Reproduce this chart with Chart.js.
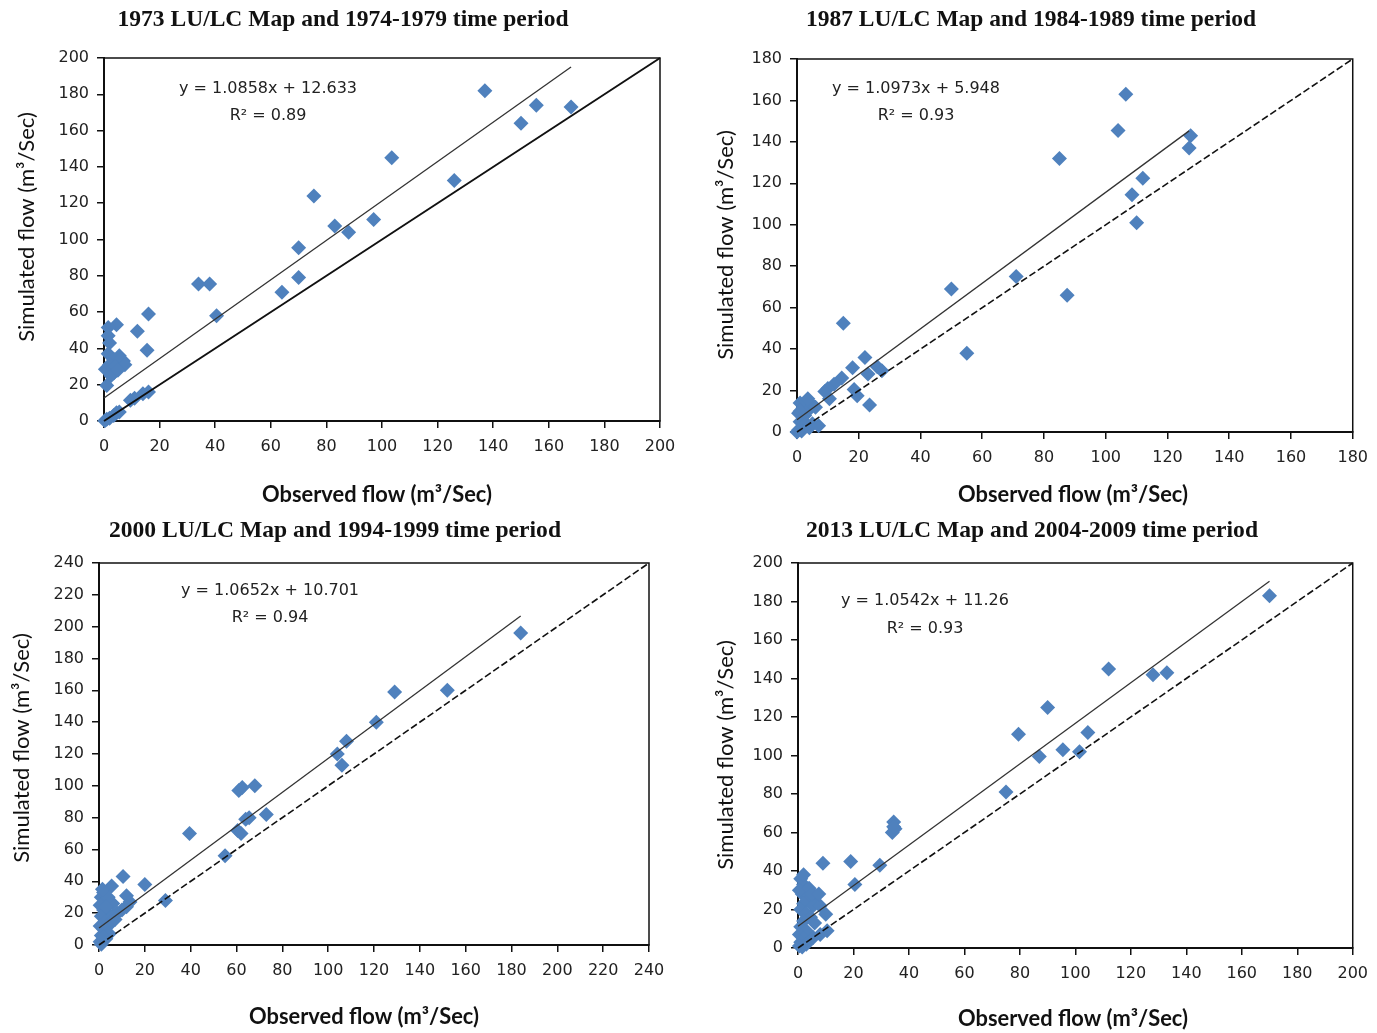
<!DOCTYPE html>
<html>
<head>
<meta charset="utf-8">
<script src="https://cdn.jsdelivr.net/npm/chart.js@4.4.1/dist/chart.umd.min.js"></script>
<style>
  html, body { margin: 0; padding: 0; background: #fff; }
  #wrap { position: relative; width: 1377px; height: 1033px; overflow: hidden; background: #fff; }
  #wrap canvas { position: absolute; }
</style>
</head>
<body>
<div id="wrap">
  <canvas id="c1"></canvas>
  <canvas id="c2"></canvas>
  <canvas id="c3"></canvas>
  <canvas id="c4"></canvas>
</div>
<script>
// ---- Data: observed vs simulated monthly flow (m³/s) for each LU/LC map ----
const panelTitles = [
  '1973 LU/LC Map and 1974-1979 time period',
  '1987 LU/LC Map and 1984-1989 time period',
  '2000 LU/LC Map and 1994-1999 time period',
  '2013 LU/LC Map and 2004-2009 time period'
];
const xAxisTitle = 'Observed flow (m³/Sec)';
const yAxisTitle = 'Simulated flow (m³/Sec)';

const obs1973 = [137,155.5,168,150,103.5,126,75.5,83,88,97,70,70,64,34,38,40.5,16,12,15.5,4.5,1.5,1.5,2,1.5,5.5,7,3.5,0.5,3.5,2,6,4,7.5,2.5,5,1,14,16,9.5,11,4.5,3.5,1,0.3,2,5.5];
const sim1973 = [182,174,173,164,145,132.5,124,107.5,104,111,95.5,79,71,75.5,75.5,58,59,49.5,39,53,51.5,47,43,37,36,33,34,28.5,26.5,31,34,30,31,25,28,19.5,15,16,11.5,12.5,4.5,3,1,0.2,1.5,5];

const obs1987 = [106.5,104,127.5,127,85,112,108.5,110,71,50,87.5,55,15,22,18,23,26,27.5,14.5,12,10,9,18.5,19.5,23.5,10.5,1,2,3,4,5,0.5,6,2.5,1,3.5,1,2,3,0.5,1.5,4,5,7,0];
const sim1987 = [163,145.5,143,137,132,122.5,114.5,101,75,69,66,38,52.5,36,31,28,31.5,29.5,26,23,21,19.5,20.5,17.5,13,16,14,12,15,11,13,9,12,8,10,16,5,3,4,1,0.5,2,4,3,0];

const obs2000 = [184,152,129,121,108,104,106,68,61,62.5,73,64,65.5,60.5,62,39.5,55,29,10.5,20,5.5,2,1,3,0.5,2,4,1,3,0.5,2,1,3,0.5,1,12,13.5,12,10,8,6,5,7,4,4.5,2,6,4,1.5,3];
const sim2000 = [196,160,159,140,128,120,113,100,97,99,82,79,80,72,70,70,56,28,43,38,37,33,30,28,25,22,20,18,15,12,10,6,4,2,0.5,31,27,24,22,20,18,15,16,12,7,5,26,30,35,24];

const obs2013 = [170,128,133,112,90,79.5,104.5,95.5,87,101.5,75,34.5,35,34,34.5,9,19,29.5,20.5,10,10.5,8,1,2,3,1.5,6.5,4,2,5.5,8,1,3,4.5,2,6,1,3,0.5,2,1,0.5,1.5,3,5.5,0.5,2,4,5,7.5];
const sim2013 = [183,142,143,145,125,111,112,103,99.5,102,81,65.5,62,60,63,44,45,43,33,17.5,9,7,36,33,30,28,27,25,23,22,22,20,18,16,14,13,11,9,7,5,3,1,0.5,2,5.5,30,38,31,28,28];

// Linear fit reported on each panel, and the observed-flow range it spans
const fitSlope     = [1.0858, 1.0973, 1.0652, 1.0542];
const fitIntercept = [12.633, 5.948, 10.701, 11.26];
const fitR2        = ['0.89', '0.93', '0.94', '0.93'];
const fitEndX      = [168, 127, 184, 170];

// Axis extent (both axes) and tick step
const axisMax  = [200, 180, 240, 200];
const axisStep = [20, 20, 20, 20];

const observed  = [obs1973, obs1987, obs2000, obs2013];
const simulated = [sim1973, sim1987, sim2000, sim2013];

// ---- Layout (page pixels) ----
const layouts = [
  { canvas: {x: 0,   y: 0,   w: 688, h: 515}, plot: {l: 104, t: 58,  r: 660,  b: 421},
    title: [343, 20, 451],  xTitle: [377, 495, 230], yTitle: [27, 227, 243], eq: [268, 89], r2: [268, 116], identityDash: [] },
  { canvas: {x: 688, y: 0,   w: 689, h: 515}, plot: {l: 797, t: 59,  r: 1355, b: 432},
    title: [1031, 20, 450], xTitle: [1073, 495, 230], yTitle: [726, 245, 238], eq: [916, 89], r2: [916, 116], identityDash: [7, 3] },
  { canvas: {x: 0,   y: 515, w: 688, h: 518}, plot: {l: 99,  t: 563, r: 649,  b: 945},
    title: [335, 531, 452], xTitle: [364, 1017, 230], yTitle: [22, 748, 240], eq: [270, 591], r2: [270, 618], identityDash: [7, 3] },
  { canvas: {x: 688, y: 515, w: 689, h: 518}, plot: {l: 798, t: 563, r: 1359, b: 948},
    title: [1032, 531, 452], xTitle: [1073, 1019, 230], yTitle: [726, 755, 244], eq: [925, 601], r2: [925, 629], identityDash: [7, 3] }
];

const Y_AXIS_W = 60;
const X_AXIS_H = 40;
const INK = '#111';
const MARKER = '#4F81BD';

// Frame around the plot area plus the panel's texts
const panelDecor = {
  id: 'panelDecor',
  beforeDatasetsDraw(chart, args, o) {
    const a = chart.chartArea;
    const ctx = chart.ctx;
    ctx.save();
    ctx.strokeStyle = INK;
    ctx.lineWidth = 1.5;
    ctx.strokeRect(a.left, a.top, a.right - a.left, a.bottom - a.top);
    ctx.restore();
  },
  afterDraw(chart, args, o) {
    const ctx = chart.ctx;
    const ox = o.origin[0], oy = o.origin[1];
    ctx.save();
    ctx.fillStyle = INK;
    ctx.textAlign = 'center';
    ctx.textBaseline = 'middle';

    ctx.font = 'bold 24px "Liberation Serif", serif';
    ctx.fillText(o.title, o.titlePos[0] - ox, o.titlePos[1] - oy, o.titlePos[2]);

    ctx.font = 'bold 22px "Lato", "DejaVu Sans", sans-serif';
    ctx.fillText(o.xTitle, o.xTitlePos[0] - ox, o.xTitlePos[1] - oy, o.xTitlePos[2]);

    ctx.save();
    ctx.translate(o.yTitlePos[0] - ox, o.yTitlePos[1] - oy);
    ctx.rotate(-Math.PI / 2);
    ctx.font = '22px "Lato", "DejaVu Sans", sans-serif';
    ctx.fillText(o.yTitle, 0, 0, o.yTitlePos[2]);
    ctx.restore();

    ctx.font = '16px "DejaVu Sans", sans-serif';
    ctx.fillStyle = '#222';
    ctx.fillText(o.eq, o.eqPos[0] - ox, o.eqPos[1] - oy);
    ctx.fillText(o.r2, o.r2Pos[0] - ox, o.r2Pos[1] - oy);
    ctx.restore();
  }
};

function makeChart(i) {
  const L = layouts[i];
  const c = L.canvas, p = L.plot;
  const el = document.getElementById('c' + (i + 1));
  el.width = c.w; el.height = c.h;
  el.style.left = c.x + 'px'; el.style.top = c.y + 'px';
  el.style.width = c.w + 'px'; el.style.height = c.h + 'px';

  const points = observed[i].map((x, k) => ({x: x, y: simulated[i][k]}));
  const trend = [
    {x: 0, y: fitIntercept[i]},
    {x: fitEndX[i], y: fitSlope[i] * fitEndX[i] + fitIntercept[i]}
  ];
  const identity = [{x: 0, y: 0}, {x: axisMax[i], y: axisMax[i]}];

  const tickFont = {family: '"DejaVu Sans", sans-serif', size: 16};

  return new Chart(el, {
    type: 'scatter',
    data: {
      datasets: [
        { data: identity, showLine: true, pointRadius: 0, borderColor: INK,
          borderWidth: i === 0 ? 2 : 1.6, borderDash: L.identityDash, order: 0, clip: false },
        { data: trend, showLine: true, pointRadius: 0, borderColor: '#333',
          borderWidth: 1.3, order: 0, clip: false },
        { data: points, pointStyle: 'rectRot', pointRadius: 7.5, pointHoverRadius: 7.5,
          backgroundColor: MARKER, borderColor: MARKER, borderWidth: 0, order: 1, clip: false }
      ]
    },
    options: {
      responsive: false,
      animation: false,
      devicePixelRatio: 1,
      events: [],
      layout: {
        autoPadding: false,
        padding: {
          left: p.l - c.x - Y_AXIS_W,
          right: c.x + c.w - p.r,
          top: p.t - c.y,
          bottom: c.y + c.h - p.b - X_AXIS_H
        }
      },
      plugins: {
        legend: {display: false},
        tooltip: {enabled: false},
        panelDecor: {
          origin: [c.x, c.y],
          title: panelTitles[i], titlePos: L.title,
          xTitle: xAxisTitle, xTitlePos: L.xTitle,
          yTitle: yAxisTitle, yTitlePos: L.yTitle,
          eq: 'y = ' + fitSlope[i] + 'x + ' + fitIntercept[i], eqPos: L.eq,
          r2: 'R² = ' + fitR2[i], r2Pos: L.r2
        }
      },
      scales: {
        x: {
          type: 'linear', min: 0, max: axisMax[i],
          afterFit(s) { s.height = X_AXIS_H; },
          ticks: {stepSize: axisStep[i], color: '#222', font: tickFont, padding: 9, maxRotation: 0},
          grid: {drawOnChartArea: false, drawTicks: true, tickLength: 7, color: INK, lineWidth: 1.5},
          border: {display: true, color: INK, width: 2}
        },
        y: {
          type: 'linear', min: 0, max: axisMax[i],
          afterFit(s) { s.width = Y_AXIS_W; },
          ticks: {stepSize: axisStep[i], color: '#222', font: tickFont, padding: 8},
          grid: {drawOnChartArea: false, drawTicks: true, tickLength: 7, color: INK, lineWidth: 1.5},
          border: {display: true, color: INK, width: 2}
        }
      }
    },
    plugins: [panelDecor]
  });
}

for (let i = 0; i < 4; i++) makeChart(i);
</script>
</body>
</html>
